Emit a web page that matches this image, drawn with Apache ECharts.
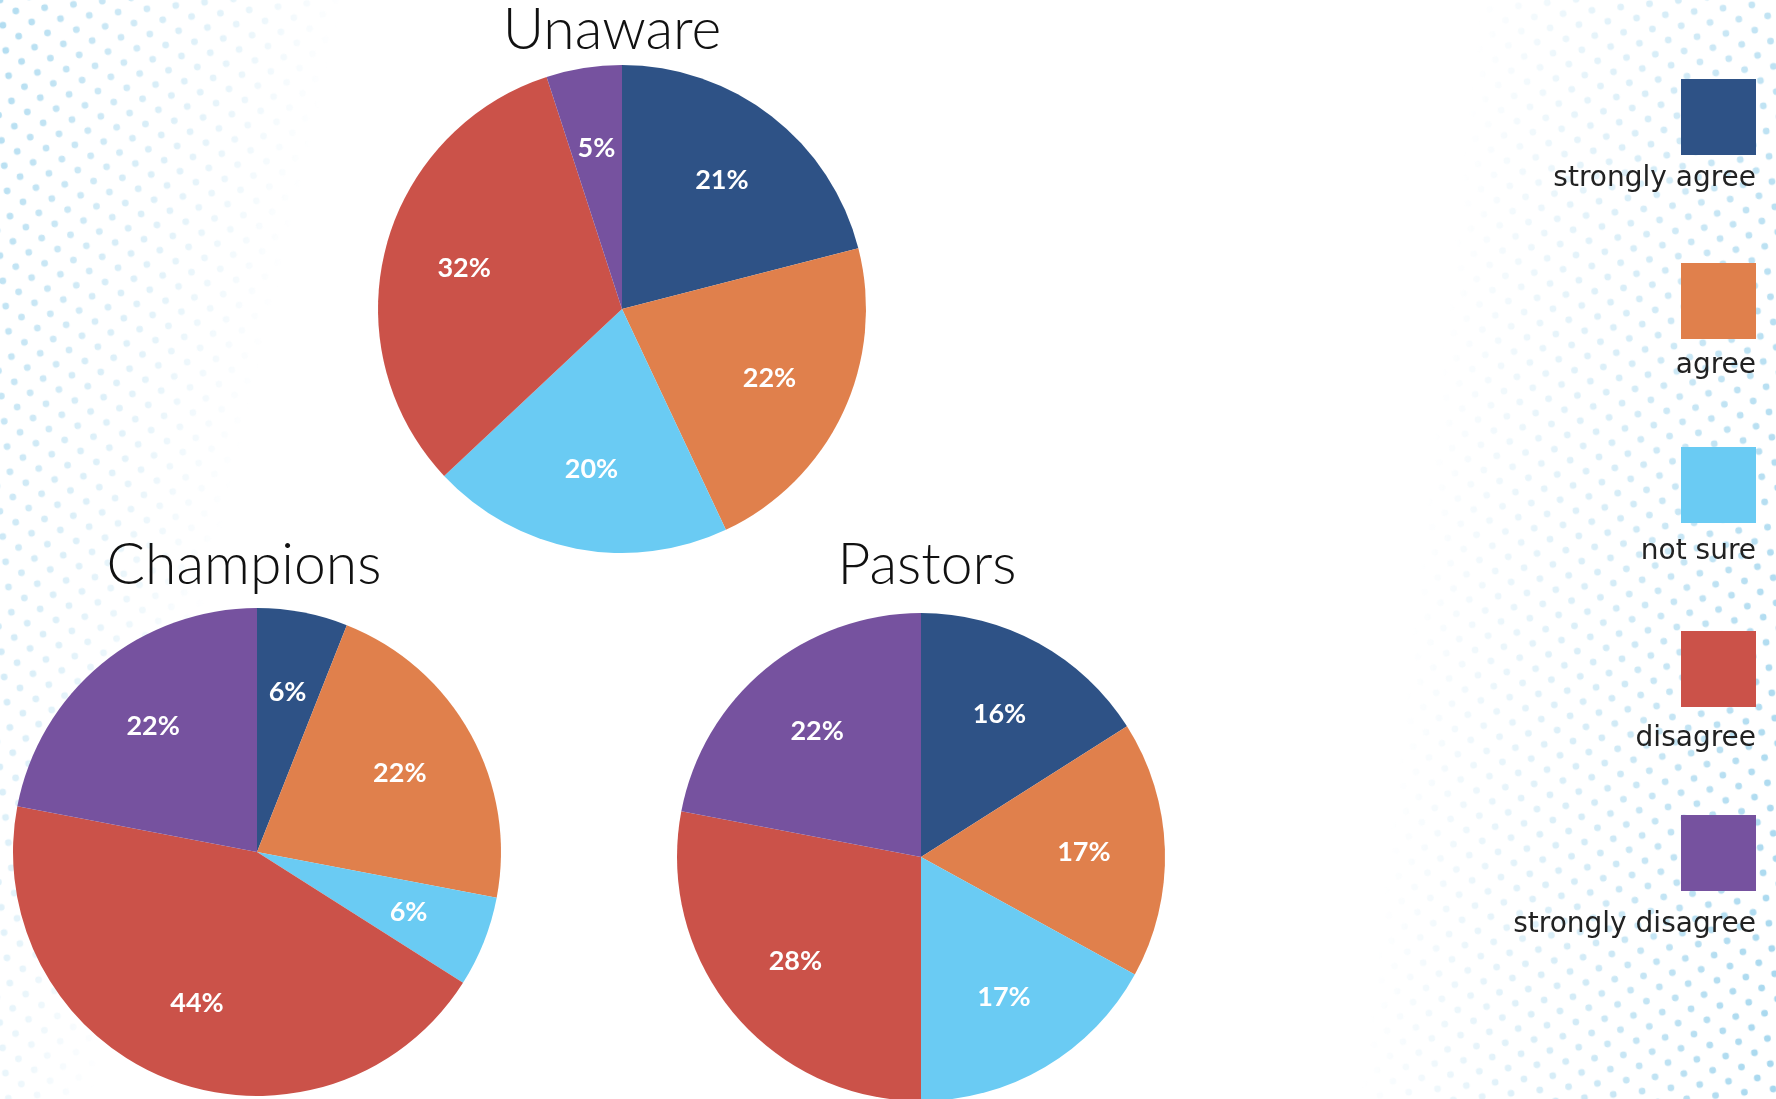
<!DOCTYPE html>
<html>
<head>
<meta charset="utf-8">
<title>Survey responses by group</title>
<script src="https://cdn.jsdelivr.net/npm/echarts@6/dist/echarts.min.js"></script>
<style>
  html, body { margin: 0; padding: 0; background: #ffffff; }
  #wrap { position: relative; width: 1776px; height: 1099px; overflow: hidden; }
  #bg { position: absolute; left: 0; top: 0; }
  #chart { position: absolute; left: 0; top: 0; width: 1776px; height: 1099px; }
</style>
</head>
<body>
<div id="wrap">
  <!-- halftone dot decoration along the left and right edges -->
  <svg id="bg" width="1776" height="1099" xmlns="http://www.w3.org/2000/svg">
    <defs>
      <pattern id="dots" width="29" height="25.4" patternUnits="userSpaceOnUse" patternTransform="rotate(-6.5)">
        <circle cx="0" cy="0" r="3.4" fill="#8fcdea"/>
        <circle cx="29" cy="0" r="3.4" fill="#8fcdea"/>
        <circle cx="0" cy="25.4" r="3.4" fill="#8fcdea"/>
        <circle cx="29" cy="25.4" r="3.4" fill="#8fcdea"/>
        <circle cx="14.5" cy="12.7" r="3.4" fill="#8fcdea"/>
      </pattern>
      <linearGradient id="fadeLeft" gradientUnits="userSpaceOnUse" x1="0" y1="0" x2="327" y2="75">
        <stop offset="0" stop-color="#fff" stop-opacity="0.7"/>
        <stop offset="1" stop-color="#fff" stop-opacity="0"/>
      </linearGradient>
      <linearGradient id="fadeRight" gradientUnits="userSpaceOnUse" x1="1776" y1="1099" x2="1365" y2="1054">
        <stop offset="0" stop-color="#fff" stop-opacity="0.8"/>
        <stop offset="1" stop-color="#fff" stop-opacity="0"/>
      </linearGradient>
      <mask id="maskLeft"><rect width="1776" height="1099" fill="url(#fadeLeft)"/></mask>
      <mask id="maskRight"><rect width="1776" height="1099" fill="url(#fadeRight)"/></mask>
    </defs>
    <rect width="1776" height="1099" fill="url(#dots)" mask="url(#maskLeft)"/>
    <rect width="1776" height="1099" fill="url(#dots)" mask="url(#maskRight)"/>
  </svg>
  <div id="chart"></div>
</div>
<script>
// Answer categories, in slice order (clockwise from 12 o'clock)
const responses = ['strongly agree', 'agree', 'not sure', 'disagree', 'strongly disagree'];
const responseColors = ['#2E5286', '#E0804C', '#6ACBF3', '#CB5249', '#76529F'];

// Groups surveyed
const groups = ['Unaware', 'Champions', 'Pastors'];

// Share of answers per group, in percent
const unawareValues = [21, 22, 20, 32, 5];
const championsValues = [6, 22, 6, 44, 22];
const pastorsValues = [16, 17, 17, 28, 22];

const groupValues = [unawareValues, championsValues, pastorsValues];

// Layout of the three pies and their headings
const pieCenters = [[622, 309], [257, 852], [921, 857]];
const titlePositions = [[612, 31], [244, 566], [927, 566]];
const pieRadius = 244;
const labelRing = [76, 244];

const chart = echarts.init(document.getElementById('chart'), null, { renderer: 'canvas' });

const toData = (values) => values.map((v, i) => ({ name: responses[i], value: v }));

const series = [];
// solid pies
groups.forEach((g, gi) => {
  series.push({
    name: g,
    type: 'pie',
    center: pieCenters[gi],
    radius: [0, pieRadius],
    startAngle: 90,
    clockwise: true,
    color: responseColors,
    data: toData(groupValues[gi]),
    label: { show: false },
    labelLine: { show: false },
    itemStyle: { borderWidth: 0 },
    emphasis: { scale: false },
    animation: false
  });
});
// transparent ring carrying the percentage labels a little further out
groups.forEach((g, gi) => {
  series.push({
    name: g + ' labels',
    type: 'pie',
    center: pieCenters[gi],
    radius: labelRing,
    startAngle: 90,
    clockwise: true,
    silent: true,
    data: toData(groupValues[gi]),
    itemStyle: { color: 'rgba(0,0,0,0)', borderWidth: 0 },
    label: {
      show: true,
      position: 'inside',
      formatter: '{c}%',
      color: '#ffffff',
      fontFamily: 'Lato',
      fontWeight: 'bold',
      fontSize: 27
    },
    labelLine: { show: false },
    emphasis: { disabled: true },
    tooltip: { show: false },
    animation: false
  });
});

const option = {
  backgroundColor: 'transparent',
  animation: false,
  title: groups.map((g, gi) => ({
    text: g,
    left: titlePositions[gi][0],
    top: titlePositions[gi][1],
    textAlign: 'center',
    textVerticalAlign: 'middle',
    padding: 0,
    textStyle: {
      fontFamily: 'Lato',
      fontWeight: 300,
      fontSize: 57,
      color: '#111111'
    }
  })),
  legend: [
    {
      // colour swatches
      orient: 'vertical',
      right: 20,
      top: 79,
      padding: 0,
      align: 'right',
      itemWidth: 75,
      itemHeight: 76,
      itemGap: 108,
      icon: 'rect',
      data: responses.map((r, i) => ({ name: r, itemStyle: { color: responseColors[i] } })),
      formatter: () => '',
      textStyle: { fontSize: 1 }
    },
    {
      // captions beneath each swatch
      orient: 'vertical',
      right: 14,
      top: 165,
      padding: 0,
      align: 'right',
      itemWidth: 1,
      itemHeight: 28,
      itemGap: 158.5,
      icon: 'rect',
      itemStyle: { opacity: 0 },
      data: responses,
      textStyle: {
        fontFamily: 'DejaVu Sans',
        fontSize: 28,
        lineHeight: 28,
        color: '#222222'
      }
    }
  ],
  series: series
};

chart.setOption(option);
</script>
</body>
</html>
